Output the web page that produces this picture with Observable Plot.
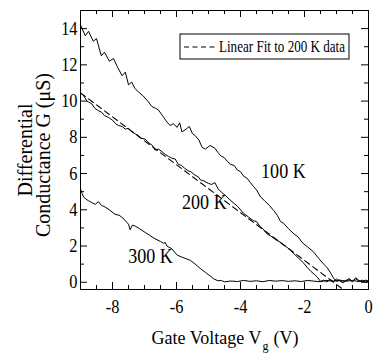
<!DOCTYPE html>
<html><head><meta charset="utf-8">
<script src="https://cdn.jsdelivr.net/npm/d3@7"></script>
<script src="https://cdn.jsdelivr.net/npm/@observablehq/plot@0.6"></script>
<style>
body{margin:0;background:#fff}
</style>
</head><body><div id="chart"></div>
<script>
// Gate voltage (V) and differential conductance (uS)
const vg100 = [-9.0,-8.95,-8.85,-8.75,-8.6,-8.5,-8.35,-8.25,-8.1,-7.97,-7.85,-7.7,-7.6,-7.5,-7.4,-7.3,-7.19,-7.05,-6.9,-6.77,-6.65,-6.56,-6.4,-6.3,-6.2,-6.1,-5.98,-5.9,-5.83,-5.7,-5.6,-5.5,-5.42,-5.3,-5.2,-5.1,-4.95,-4.8,-4.7,-4.6,-4.52,-4.4,-4.3,-4.2,-4.1,-4.0,-3.9,-3.8,-3.69,-3.6,-3.5,-3.37,-3.25,-3.1,-2.96,-2.85,-2.75,-2.65,-2.5,-2.33,-2.2,-2.05,-1.9,-1.71,-1.55,-1.4,-1.29,-1.18,-1.08,-1.0,-0.9,-0.8,-0.7,-0.6,-0.5,-0.4,-0.3,-0.2,-0.1,0];
const g100 = [14.2,14.0,13.6,13.85,13.3,13.45,12.5,12.7,12.2,12.35,11.9,11.4,11.6,10.9,11.05,10.7,10.5,10.3,10.0,9.7,9.6,9.5,9.1,8.85,8.65,8.75,8.55,8.8,8.3,8.45,8.6,8.2,8.1,7.85,7.45,7.35,7.55,7.4,7.15,6.95,6.9,6.65,6.5,6.45,6.2,6.1,5.85,5.75,5.5,5.3,5.1,4.7,4.5,4.25,3.95,3.7,3.35,3.25,2.95,2.67,2.5,2.15,1.95,1.66,1.3,1.0,0.8,0.5,0.2,0.05,0.1,-0.02,0.08,0.15,0.02,0.2,0.05,0.12,0.0,0.05];

const vg200 = [-9.0,-8.9,-8.8,-8.75,-8.65,-8.55,-8.44,-8.35,-8.25,-8.13,-8.0,-7.9,-7.81,-7.7,-7.6,-7.5,-7.4,-7.3,-7.19,-7.1,-6.98,-6.87,-6.75,-6.67,-6.56,-6.45,-6.35,-6.25,-6.15,-6.04,-5.94,-5.85,-5.75,-5.63,-5.55,-5.45,-5.31,-5.25,-5.15,-5.0,-4.9,-4.8,-4.7,-4.58,-4.45,-4.3,-4.2,-4.1,-3.9,-3.75,-3.6,-3.5,-3.4,-3.3,-3.17,-3.05,-2.9,-2.75,-2.6,-2.45,-2.33,-2.2,-2.05,-1.92,-1.8,-1.7,-1.6,-1.5,-1.4,-1.3,-1.2,-1.1,-1.0,-0.9,-0.8,-0.7,-0.6,-0.5,-0.4,-0.3,-0.2,-0.1,0];
const g200 = [10.45,10.3,10.0,9.95,9.85,9.6,9.47,9.4,9.2,9.1,8.95,8.75,8.65,8.6,8.45,8.5,8.3,8.2,8.1,7.95,7.9,7.7,7.55,7.3,7.35,7.2,7.05,6.95,6.85,6.8,6.5,6.45,6.3,6.15,6.1,5.95,5.8,5.65,5.6,5.45,5.4,5.5,5.15,4.95,4.75,4.5,4.35,4.2,3.8,3.6,3.4,3.35,3.1,2.95,2.67,2.55,2.35,2.2,2.0,1.8,1.57,1.35,1.1,0.83,0.6,0.45,0.28,0.05,0.12,0.02,0.15,0.05,0.18,0.08,0.0,0.1,0.2,0.05,0.25,0.1,0.02,0.12,0.06];

const vg300 = [-9.0,-8.95,-8.9,-8.8,-8.75,-8.65,-8.54,-8.44,-8.35,-8.23,-8.1,-7.92,-7.8,-7.71,-7.6,-7.5,-7.45,-7.38,-7.29,-7.15,-6.98,-6.85,-6.67,-6.5,-6.4,-6.35,-6.3,-6.15,-5.98,-5.85,-5.7,-5.56,-5.45,-5.35,-5.25,-5.1,-4.95,-4.83,-4.7,-4.6,-4.5,-4.3,-4.1,-3.9,-3.7,-3.5,-3.3,-3.1,-2.9,-2.7,-2.5,-2.3,-2.1,-1.9,-1.7,-1.5,-1.3,-1.1,-0.9,-0.7,-0.5,-0.3,-0.15,0];
const g300 = [5.15,4.9,4.7,4.55,4.5,4.4,4.3,4.45,4.25,4.15,4.0,3.75,3.7,3.6,3.4,3.2,2.9,3.15,3.1,2.95,2.75,2.6,2.4,2.25,2.15,2.2,2.0,1.85,1.5,1.4,1.3,1.2,1.05,0.9,0.75,0.55,0.35,0.18,0.08,0.1,0.02,0.07,0.04,0.1,0.05,0.08,0.03,0.1,0.06,0.09,0.05,0.08,0.04,0.1,0.06,0.03,0.1,0.05,0.12,0.06,0.1,0.04,0.08,0.06];

// Linear fit to 200 K data (end points)
const fitVg = [-9.0, -0.82];
const fitG = [10.45, -0.36];

// Curve labels
const labelText = ["100 K", "200 K", "300 K"];
const labelVg = [-2.66, -5.13, -6.81];
const labelG = [6.14, 4.4, 1.42];

// Ticks
const xMajor = [-8, -6, -4, -2, 0];
const xMinor = [-9, -8.5, -7.5, -7, -6.5, -5.5, -5, -4.5, -3.5, -3, -2.5, -1.5, -1, -0.5];
const yMajor = [0, 2, 4, 6, 8, 10, 12, 14];
const yMinor = [1, 3, 5, 7, 9, 11, 13];

const legendLabel = "Linear Fit to 200 K data";
const xTitleMain = "Gate Voltage V";
const xTitleSub = "g";
const xTitleUnit = "(V)";
const yTitle1 = "Differential";
const yTitle2 = "Conductance G (μS)";

// pick an installed serif face (Times-like preferred)
function pickSerif() {
  const cands = ["Liberation Serif", "Times New Roman", "Tinos", "Times", "Nimbus Roman", "DejaVu Serif", "Noto Serif", "FreeSerif"];
  const c = document.createElement("canvas").getContext("2d");
  const probe = "Gate Voltage 0123456789 Conductance";
  const w = f => { c.font = "40px " + f; return c.measureText(probe).width; };
  const baseM = w("monospace"), baseS = w("sans-serif");
  for (const f of cands) {
    const q = '"' + f + '"';
    if (w(q + ", monospace") !== baseM || w(q + ", sans-serif") !== baseS) return q + ", serif";
  }
  return "serif";
}
const ff = pickSerif();

const rows = (xs, ys) => xs.map((v, i) => ({vg: v, g: ys[i]}));
const d100 = rows(vg100, g100), d200 = rows(vg200, g200), d300 = rows(vg300, g300);
const dFit = rows(fitVg, fitG);
const dLab = labelText.map((t, i) => ({t, vg: labelVg[i], g: labelG[i]}));

const W = 377, H = 355, mL = 80, mR = 9, mT = 10, mB = 66;
const iW = W - mL - mR, iH = H - mT - mB;
const maj = 7, mnr = 4;

const svg = Plot.plot({
  width: W, height: H,
  marginLeft: mL, marginRight: mR, marginTop: mT, marginBottom: mB,
  style: {fontFamily: ff, fontSize: "19px", background: "white", color: "black", overflow: "visible"},
  x: {domain: [-9, 0], ticks: xMajor, tickSize: 0, tickPadding: 10, label: null, tickFormat: d => String(d)},
  y: {domain: [-0.4, 15], ticks: yMajor, tickSize: 0, tickPadding: 3, label: null},
  marks: [
    Plot.line(d300, {x: "vg", y: "g", stroke: "black", strokeWidth: 1}),
    Plot.line(d200, {x: "vg", y: "g", stroke: "black", strokeWidth: 1}),
    Plot.line(d100, {x: "vg", y: "g", stroke: "black", strokeWidth: 1}),
    Plot.line(dFit, {x: "vg", y: "g", stroke: "black", strokeWidth: 1.1, strokeDasharray: "6,4"}),
    Plot.tickX(xMajor, {x: d => d, insetTop: iH - maj, stroke: "black"}),
    Plot.tickX(xMinor, {x: d => d, insetTop: iH - mnr, stroke: "black"}),
    Plot.tickX(xMajor, {x: d => d, insetBottom: iH - maj, stroke: "black"}),
    Plot.tickX(xMinor, {x: d => d, insetBottom: iH - mnr, stroke: "black"}),
    Plot.tickY(yMajor, {y: d => d, insetRight: iW - maj, stroke: "black"}),
    Plot.tickY(yMinor, {y: d => d, insetRight: iW - mnr, stroke: "black"}),
    Plot.tickY(yMajor, {y: d => d, insetLeft: iW - maj, stroke: "black"}),
    Plot.tickY(yMinor, {y: d => d, insetLeft: iW - mnr, stroke: "black"}),
    Plot.text(dLab, {x: "vg", y: "g", text: "t", fontSize: 21, fill: "black", textAnchor: "middle"}),
    Plot.frame({stroke: "black", strokeWidth: 1})
  ]
});
document.getElementById("chart").appendChild(svg);

const s = d3.select(svg);
s.selectAll("text").style("font-family", ff);
// compress Plot's own text horizontally like the reference's narrow Times type
s.selectAll("text").each(function() {
  const L = this.getComputedTextLength();
  if (L > 0) { this.setAttribute("textLength", L * 0.86); this.setAttribute("lengthAdjust", "spacingAndGlyphs"); }
});

// legend
const lg = s.append("g");
lg.append("rect").attr("x", 180).attr("y", 34).attr("width", 169).attr("height", 25)
  .attr("fill", "white").attr("stroke", "black").attr("stroke-width", 1);
lg.append("line").attr("x1", 184).attr("x2", 215).attr("y1", 47).attr("y2", 47)
  .attr("stroke", "black").attr("stroke-width", 1.1).attr("stroke-dasharray", "5,3.5");
const lt = lg.append("text").attr("x", 219).attr("y", 52).attr("text-anchor", "start")
  .style("font-family", ff).attr("font-size", 16).attr("fill", "black").text(legendLabel);
{
  const L = lt.node().getComputedTextLength();
  if (L > 126) lt.attr("textLength", 126).attr("lengthAdjust", "spacingAndGlyphs");
}

// x title: main text, subscript and unit as separate texts placed side by side
const mk = (txt, size) => {
  const t = s.append("text").attr("text-anchor", "start").style("font-family", ff)
    .attr("font-size", size).attr("fill", "black").text(txt);
  return {t, w: t.node().getComputedTextLength()};
};
const p1 = mk(xTitleMain, 18), p2 = mk(xTitleSub, 12), p3 = mk(xTitleUnit, 18);
const gap = 5;
const total = p1.w + 1 + p2.w + gap + p3.w;
let cx = 225 - total / 2;
p1.t.attr("x", cx).attr("y", 344); cx += p1.w + 1;
p2.t.attr("x", cx).attr("y", 350); cx += p2.w + gap;
p3.t.attr("x", cx).attr("y", 344);

// y title, two lines
s.append("text").attr("transform", "translate(32,150) rotate(-90)").attr("text-anchor", "middle")
  .style("font-family", ff).attr("font-size", 20).attr("fill", "black").text(yTitle1);
s.append("text").attr("transform", "translate(50,155) rotate(-90)").attr("text-anchor", "middle")
  .style("font-family", ff).attr("font-size", 20).attr("fill", "black").text(yTitle2);
</script>
</body></html>
